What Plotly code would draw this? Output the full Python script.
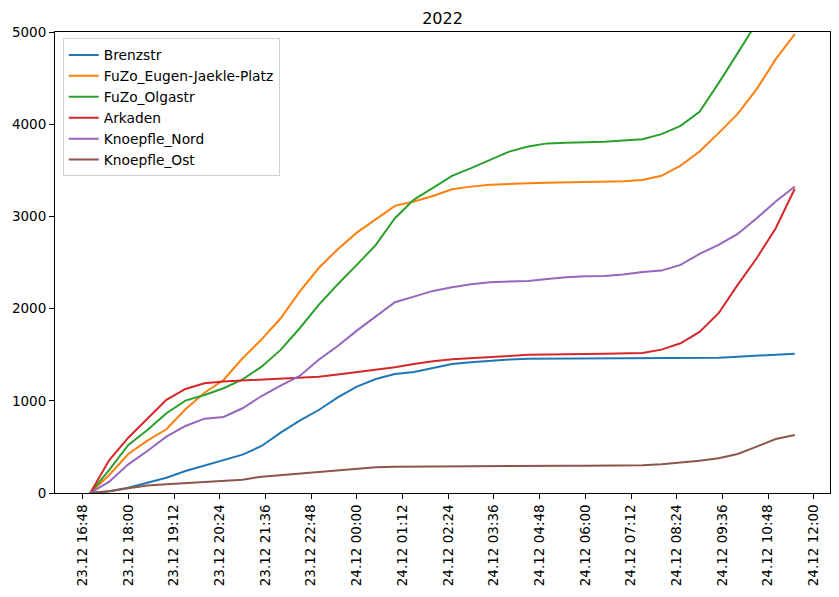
import plotly.graph_objects as go

# half-hourly timestamps, 23.12 17:00 .. 24.12 11:30
times = [
    "2022-12-23 17:00", "2022-12-23 17:30", "2022-12-23 18:00", "2022-12-23 18:30",
    "2022-12-23 19:00", "2022-12-23 19:30", "2022-12-23 20:00", "2022-12-23 20:30",
    "2022-12-23 21:00", "2022-12-23 21:30", "2022-12-23 22:00", "2022-12-23 22:30",
    "2022-12-23 23:00", "2022-12-23 23:30", "2022-12-24 00:00", "2022-12-24 00:30",
    "2022-12-24 01:00", "2022-12-24 01:30", "2022-12-24 02:00", "2022-12-24 02:30",
    "2022-12-24 03:00", "2022-12-24 03:30", "2022-12-24 04:00", "2022-12-24 04:30",
    "2022-12-24 05:00", "2022-12-24 05:30", "2022-12-24 06:00", "2022-12-24 06:30",
    "2022-12-24 07:00", "2022-12-24 07:30", "2022-12-24 08:00", "2022-12-24 08:30",
    "2022-12-24 09:00", "2022-12-24 09:30", "2022-12-24 10:00", "2022-12-24 10:30",
    "2022-12-24 11:00", "2022-12-24 11:30",
]

brenzstr = [0, 20, 58, 116, 166, 239, 300, 358, 416, 510, 654, 785, 900, 1038,
            1153, 1237, 1291, 1313, 1353, 1400, 1418, 1435, 1448, 1457, 1458,
            1458, 1459, 1460, 1460, 1460, 1460, 1463, 1465, 1468, 1478, 1490,
            1502, 1510]
eugen_jaekle = [0, 195, 423, 568, 691, 908, 1088, 1226, 1461, 1667, 1895, 2184,
                2440, 2644, 2824, 2970, 3114, 3161, 3222, 3295, 3323, 3342, 3353,
                3360, 3365, 3368, 3370, 3372, 3380, 3396, 3440, 3551, 3703, 3903,
                4112, 4380, 4706, 4977]
olgastr = [0, 250, 521, 684, 865, 1002, 1063, 1136, 1233, 1370, 1552, 1787, 2040,
           2264, 2474, 2691, 2980, 3183, 3310, 3440, 3523, 3613, 3703, 3758, 3792,
           3798, 3803, 3810, 3822, 3838, 3892, 3982, 4134, 4445, 4771, 5110, 5440,
           5760]
arkaden = [0, 358, 600, 810, 1010, 1128, 1190, 1210, 1220, 1228, 1240, 1252, 1262,
           1285, 1309, 1335, 1364, 1400, 1430, 1450, 1460, 1468, 1485, 1500, 1505,
           1508, 1508, 1510, 1515, 1519, 1555, 1624, 1747, 1950, 2257, 2546, 2872,
           3300]
knoepfle_nord = [0, 123, 311, 456, 611, 727, 806, 825, 919, 1052, 1164, 1270, 1445,
                 1595, 1761, 1920, 2069, 2130, 2192, 2232, 2264, 2286, 2293, 2300,
                 2320, 2340, 2351, 2354, 2369, 2398, 2412, 2474, 2593, 2691, 2810,
                 2980, 3161, 3325]
knoepfle_ost = [0, 20, 51, 80, 94, 108, 123, 134, 145, 177, 195, 206, 228, 250, 268,
                278, 285, 287, 288, 289, 290, 291, 292, 293, 294, 295, 296, 297, 298,
                300, 311, 329, 351, 376, 423, 503, 586, 629]

series = [
    ("Brenzstr", brenzstr, "#1f77b4"),
    ("FuZo_Eugen-Jaekle-Platz", eugen_jaekle, "#ff7f0e"),
    ("FuZo_Olgastr", olgastr, "#2ca02c"),
    ("Arkaden", arkaden, "#d62728"),
    ("Knoepfle_Nord", knoepfle_nord, "#9467bd"),
    ("Knoepfle_Ost", knoepfle_ost, "#8c564b"),
]

fig = go.Figure()
for name, vals, color in series:
    fig.add_trace(go.Scatter(
        x=times, y=vals, name=name, mode="lines",
        line=dict(color=color, width=2),
    ))

axis_style = dict(
    showline=True, linecolor="black", linewidth=1, mirror=True,
    showgrid=False, zeroline=False,
    ticks="outside", ticklen=5, tickcolor="black",
    tickfont=dict(family="DejaVu Sans", size=13.5, color="black"),
)

# page body adds an 8px offset, so the figure is sized 8px smaller
fig.update_layout(
    width=831, height=589,
    paper_bgcolor="white", plot_bgcolor="white",
    font=dict(family="DejaVu Sans", color="black"),
    title=dict(text="2022", x=0.5, xref="paper", y=1 - 10 / 589, yref="container",
               yanchor="middle", font=dict(size=16, color="black")),
    margin=dict(l=47, r=9, t=24, b=104),
    xaxis=dict(
        type="date",
        range=["2022-12-23 16:04:30", "2022-12-24 12:25:30"],
        tick0="2022-12-23 16:48", dtick=72 * 60 * 1000,
        tickformat="%d.%m %H:%M", tickangle=-90,
        automargin=False,
        **axis_style,
    ),
    yaxis=dict(range=[0, 5000], dtick=1000, automargin=False, **axis_style),
    legend=dict(
        x=0.01, y=0.986, xanchor="left", yanchor="top",
        bgcolor="rgba(255,255,255,0.8)", bordercolor="#d0d0d0", borderwidth=1,
        font=dict(family="DejaVu Sans", size=13.8, color="black"),
        tracegroupgap=0, itemwidth=30,
    ),
)

fig.write_html("out.html")
